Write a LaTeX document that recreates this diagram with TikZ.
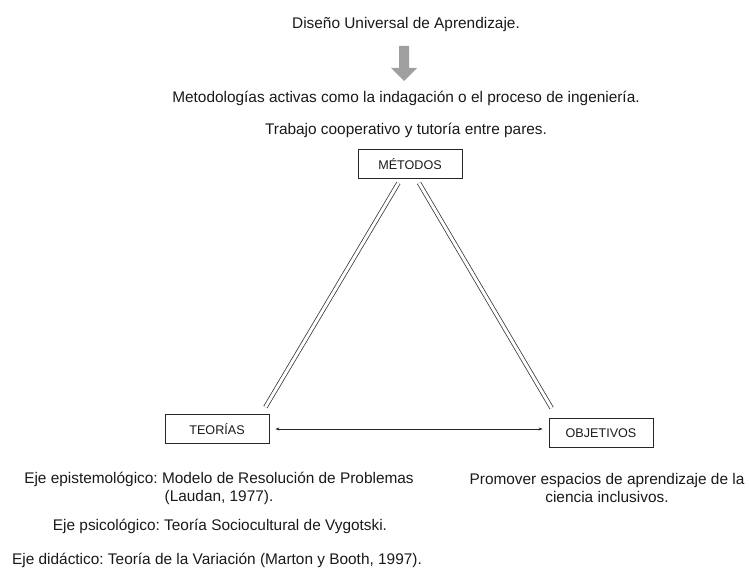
\documentclass[tikz,border=0pt]{standalone}
\usepackage{fontspec}
\setmainfont{Liberation Sans}
\usetikzlibrary{arrows.meta,calc}
\frenchspacing
\begin{document}
\begin{tikzpicture}[x=1pt,y=-1pt,
  txt/.style={font=\fontsize{15.4}{18}\selectfont, text=black!90, inner sep=0pt, align=center},
  box/.style={draw=black!85, line width=0.8pt, minimum width=104pt, minimum height=29pt,
              font=\fontsize{12.6}{15}\selectfont, text=black!90, inner sep=0pt},
  dbl/.style={draw=black!80, line width=0.75pt, double=white, double distance=3pt},
  link/.style={draw=black!85, line width=0.9pt, {Stealth[length=4pt,width=3pt]}-{Stealth[length=4pt,width=3pt]}}]
  \useasboundingbox (0,0) rectangle (750,578);

  % headings above the triangle
  \node[txt] (dua) at (406,25) {Diseño Universal de Aprendizaje.};
  \fill[gray!75] (399,46) -- (409,46) -- (409,68) -- (417,68) -- (404,81)
                 -- (391,68) -- (399,68) -- cycle;
  \node[txt] (met) at (406,98) {Metodologías activas como la indagación o el proceso de ingeniería.};
  \node[txt] (coop) at (406,130) {Trabajo cooperativo y tutoría entre pares.};

  % the three corners
  \node[box] (m) at (410,164) {MÉTODOS};
  \node[box] (t) at (217,429) {TEORÍAS};
  \node[box] (o) at (601,433) {OBJETIVOS};

  % sides of the triangle
  \draw[dbl] ($(m.south)+(-11.5,4)$) -- ($(t.north east)+(-4,-7)$);
  \draw[dbl] ($(m.south)+(9,4)$) -- ($(o.north west)+(3,-10)$);
  \draw[link] ([xshift=6pt]t.east) -- ([xshift=-6pt]t.east -| o.west);

  % texts under the corners
  \node[txt] (ejeA) at (219,488) {Eje epistemológico: Modelo de Resolución de Problemas\\(Laudan, 1977).};
  \node[txt] (ejeB) at (220,526) {Eje psicológico: Teoría Sociocultural de Vygotski.};
  \node[txt] (ejeC) at (217,560) {Eje didáctico: Teoría de la Variación (Marton y Booth, 1997).};
  \node[txt] (prom) at (607,488) {Promover espacios de aprendizaje de la\\ciencia inclusivos.};
\end{tikzpicture}
\end{document}
